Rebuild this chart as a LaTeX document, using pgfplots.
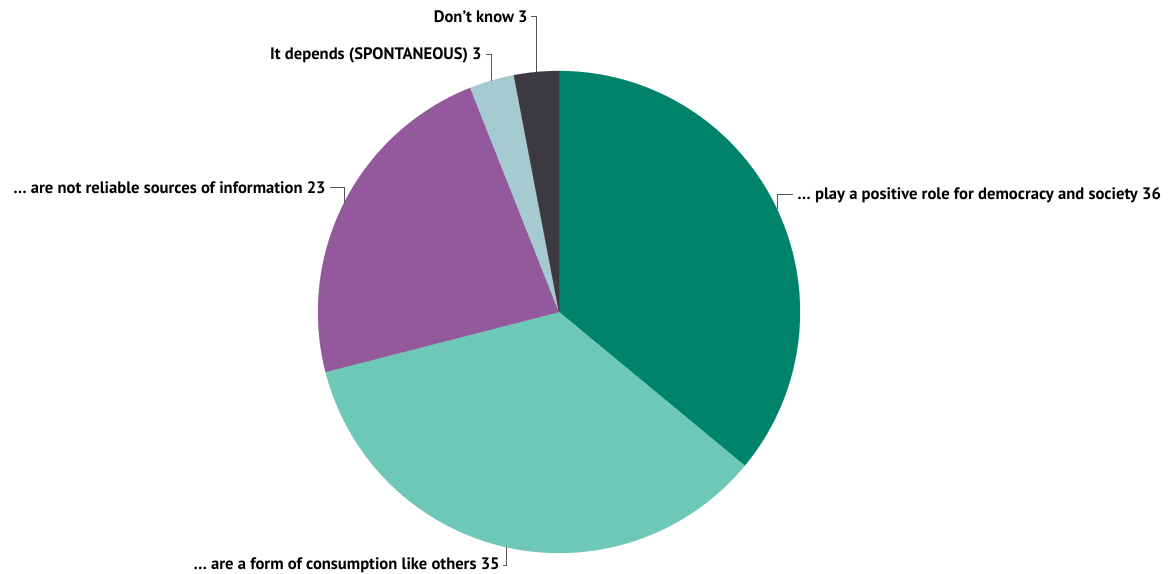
\documentclass[border=0pt]{standalone}
\usepackage{pgfplots}
\usepackage{pgfplotstable}
\pgfplotsset{compat=1.18}
\usepackage{fontspec}
\setmainfont{PT Sans}
\definecolor{cA}{HTML}{00836B}
\definecolor{cB}{HTML}{6DC8B8}
\definecolor{cC}{HTML}{93599C}
\definecolor{cD}{HTML}{A5CAD2}
\definecolor{cE}{HTML}{3C3A3E}
\definecolor{lead}{HTML}{555555}
\pgfplotstableread{
idx value
0 36
1 35
2 23
3 3
4 3
}\piedata
\tikzset{lbl/.style={font=\fontsize{8.3}{9}\selectfont\bfseries, text=black, inner sep=0pt}}
\begin{document}
\begin{tikzpicture}
\pgfplotstablegetelem{0}{value}\of\piedata \let\vA\pgfplotsretval
\pgfplotstablegetelem{1}{value}\of\piedata \let\vB\pgfplotsretval
\pgfplotstablegetelem{2}{value}\of\piedata \let\vC\pgfplotsretval
\pgfplotstablegetelem{3}{value}\of\piedata \let\vD\pgfplotsretval
\pgfplotstablegetelem{4}{value}\of\piedata \let\vE\pgfplotsretval
\pgfmathsetmacro\aA{90}
\pgfmathsetmacro\aB{\aA-3.6*\vA}
\pgfmathsetmacro\aC{\aB-3.6*\vB}
\pgfmathsetmacro\aD{\aC-3.6*\vC}
\pgfmathsetmacro\aE{\aD-3.6*\vD}
\pgfmathsetmacro\aF{\aE-3.6*\vE}
\pgfmathsetmacro\mA{(\aA+\aB)/2}
\pgfmathsetmacro\mB{(\aB+\aC)/2}
\pgfmathsetmacro\mC{(\aC+\aD)/2}
\pgfmathsetmacro\mD{(\aD+\aE)/2}
\pgfmathsetmacro\mE{(\aE+\aF)/2}
\begin{axis}[
  scale only axis, width=586pt, height=286.5pt,
  xmin=0, xmax=1172, ymin=0, ymax=573,
  hide axis, clip=false,
]
\addplot[fill=cA, draw=cA, line width=0.1pt, domain=\aB:\aA, samples=80] ({559+241*cos(x)},{261+241*sin(x)}) -- (559,261) -- cycle;
\addplot[fill=cB, draw=cB, line width=0.1pt, domain=\aC:\aB, samples=80] ({559+241*cos(x)},{261+241*sin(x)}) -- (559,261) -- cycle;
\addplot[fill=cC, draw=cC, line width=0.1pt, domain=\aD:\aC, samples=60] ({559+241*cos(x)},{261+241*sin(x)}) -- (559,261) -- cycle;
\addplot[fill=cD, draw=cD, line width=0.1pt, domain=\aE:\aD, samples=10] ({559+241*cos(x)},{261+241*sin(x)}) -- (559,261) -- cycle;
\addplot[fill=cE, draw=cE, line width=0.1pt, domain=\aF:\aE, samples=10] ({559+241*cos(x)},{261+241*sin(x)}) -- (559,261) -- cycle;
% leaders
\draw[lead, line width=0.5pt] ({559+241*cos(\mA)},{261+241*sin(\mA)}) -- ({559+241*cos(\mA)},378) -- (793,378);
\node[lbl, anchor=west] at (797,378) {\ldots\ play a positive role for democracy and society 36};
\draw[lead, line width=0.5pt] ({559+241*cos(\mB)},{261+241*sin(\mB)}) -- ({559+241*cos(\mB)},7) -- (503,7);
\node[lbl, anchor=east] at (500,8) {\ldots\ are a form of consumption like others 35};
\draw[lead, line width=0.5pt] ({559+241*cos(\mC)},{261+241*sin(\mC)}) -- ({559+241*cos(\mC)},385) -- (330,385);
\node[lbl, anchor=east] at (326,385) {\ldots\ are not reliable sources of information 23};
\draw[lead, line width=0.5pt] ({559+241*cos(\mD)},{261+241*sin(\mD)}) -- ({559+241*cos(\mD)},518) -- (486,518);
\node[lbl, anchor=east] at (482,518) {It depends (SPONTANEOUS) 3};
\draw[lead, line width=0.5pt] ({559+241*cos(\mE)},{261+241*sin(\mE)}) -- ({559+241*cos(\mE)},556) -- (531,556);
\node[lbl, anchor=east] at (528,556) {Don't know 3};
\end{axis}
\pgfresetboundingbox
\path (current axis.south west) rectangle (current axis.north east);
\end{tikzpicture}
\end{document}
